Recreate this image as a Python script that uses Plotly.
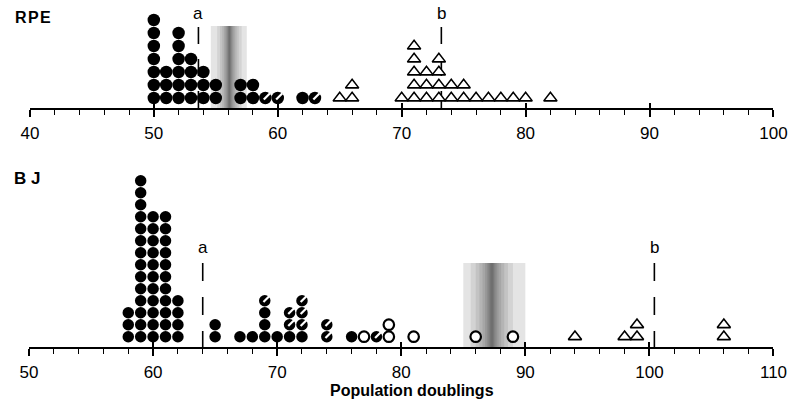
import plotly.graph_objects as go

# ---------------- data ----------------
# RPE panel (population doublings, number of clones stacked)
rpe_filled_x = [50, 51, 52, 53, 54, 55, 57, 58, 62]
rpe_filled_n = [7, 3, 6, 4, 3, 2, 2, 2, 1]
rpe_half_x = [59, 60, 63]
rpe_half_n = [1, 1, 1]
rpe_tri_x = [65, 66, 70, 71, 72, 73, 74, 75, 76, 77, 78, 79, 80, 82]
rpe_tri_n = [1, 2, 1, 5, 3, 4, 2, 2, 1, 1, 1, 1, 1, 1]
rpe_marks = {"a": 53.6, "b": 73.2}
rpe_band = [54.6, 56.1, 57.5]   # left, darkest centre, right

# BJ panel
bj_filled_x = [58, 59, 60, 61, 62, 65, 67, 68, 69, 70, 71, 72, 76]
bj_filled_n = [3, 14, 11, 11, 4, 2, 1, 1, 3, 1, 1, 1, 1]
bj_half_x = [69, 71, 72, 74, 78]
bj_half_n = [1, 2, 3, 2, 1]
bj_open_x = [77, 79, 81, 86, 89]
bj_open_n = [1, 2, 1, 1, 1]
bj_tri_x = [94, 98, 99, 106]
bj_tri_n = [1, 1, 2, 2]
bj_marks = {"a": 64.0, "b": 100.4}
bj_band = [85.0, 87.3, 90.0]

rpe_ticks = [40, 50, 60, 70, 80, 90, 100]
bj_ticks = [50, 60, 70, 80, 90, 100, 110]

W, H = 804, 401
FONT = "Liberation Sans, Arial, sans-serif"


def stack(xs, ns, base=None):
    """expand counts into stacked points; base gives starting level per x"""
    base = base or {}
    px, py = [], []
    for x, n in zip(xs, ns):
        b = base.get(x, 0)
        for k in range(1, n + 1):
            px.append(x)
            py.append(b + k)
    return px, py


def counts(xs, ns):
    return dict(zip(xs, ns))


fig = go.Figure()

# pixel geometry of panels
TOP_AXIS_PX, TOP_Y0_PX, TOP_STEP = 108, 111.0, 13.0
BOT_AXIS_PX, BOT_Y0_PX, BOT_STEP = 347, 348.7, 12.0
TOP_TOP_PX, BOT_TOP_PX = 8, 160


def ty(px):  # top panel pixel -> data
    return (TOP_Y0_PX - px) / TOP_STEP


def by(px):
    return (BOT_Y0_PX - px) / BOT_STEP


def add_band(xref, yref, band, y_lo, y_hi):
    l, c, r = band
    w = r - l
    fig.add_shape(type="rect", xref=xref, yref=yref, x0=l, x1=r,
                  y0=y_lo, y1=y_hi, fillcolor="#e4e4e4", line_width=0,
                  layer="below")
    for f in [0.34, 0.26, 0.2, 0.15, 0.11, 0.08, 0.055, 0.035, 0.02]:
        fig.add_shape(type="rect", xref=xref, yref=yref,
                      x0=max(l, c - f * w), x1=min(r, c + f * w),
                      y0=y_lo, y1=y_hi, fillcolor="rgba(0,0,0,0.075)",
                      line_width=0, layer="below")


add_band("x", "y", rpe_band, ty(TOP_AXIS_PX), ty(26))
add_band("x2", "y2", bj_band, by(BOT_AXIS_PX), by(263))


def add_mark(xa, ya, xv, label, y_top, y_bot, y_lab, dash):
    fig.add_trace(go.Scatter(x=[xv, xv], y=[y_top, y_bot], mode="lines",
                             line=dict(color="black", width=1.6, dash=dash),
                             xaxis=xa, yaxis=ya, showlegend=False,
                             hoverinfo="skip"))
    fig.add_annotation(x=xv, y=y_lab, xref=xa, yref=ya, text=label,
                       showarrow=False, yanchor="middle", xanchor="center",
                       font=dict(family=FONT, size=17, color="black"))


for lab, xv in rpe_marks.items():
    add_mark("x", "y", xv, lab, ty(27), ty(TOP_AXIS_PX), ty(14), "17px,15px")
for lab, xv in bj_marks.items():
    add_mark("x2", "y2", xv, lab, by(263), by(BOT_AXIS_PX), by(247),
             "18px,16px")


def add_points(xa, ya, x, y, kind, size, unit_x, unit_y):
    if not x:
        return
    if kind == "filled":
        fig.add_trace(go.Scatter(x=x, y=y, mode="markers", xaxis=xa, yaxis=ya,
                                 marker=dict(symbol="circle", size=size,
                                             color="black",
                                             line=dict(width=0)),
                                 showlegend=False))
    elif kind == "half":
        fig.add_trace(go.Scatter(x=x, y=y, mode="markers", xaxis=xa, yaxis=ya,
                                 marker=dict(symbol="circle", size=size,
                                             color="black",
                                             line=dict(width=0)),
                                 showlegend=False))
        ox = [v + 1.6 / unit_x for v in x]
        oy = [v + 1.6 / unit_y for v in y]
        fig.add_trace(go.Scatter(x=ox, y=oy, mode="markers", xaxis=xa,
                                 yaxis=ya,
                                 marker=dict(symbol="line-ne", size=size * 0.5,
                                             color="white",
                                             line=dict(width=2.2,
                                                       color="white")),
                                 showlegend=False))
    elif kind == "open":
        fig.add_trace(go.Scatter(x=x, y=y, mode="markers", xaxis=xa, yaxis=ya,
                                 marker=dict(symbol="circle", size=size - 1,
                                             color="white",
                                             line=dict(width=2.2,
                                                       color="black")),
                                 showlegend=False))
    elif kind == "tri":
        fig.add_trace(go.Scatter(x=x, y=y, mode="markers", xaxis=xa, yaxis=ya,
                                 marker=dict(symbol="triangle-up", size=size,
                                             color="white",
                                             line=dict(width=1.6,
                                                       color="black")),
                                 showlegend=False))


UX = 12.77  # px per doubling
# RPE
fx, fy = stack(rpe_filled_x, rpe_filled_n)
add_points("x", "y", fx, fy, "filled", 12.5, UX, TOP_STEP)
hx, hy = stack(rpe_half_x, rpe_half_n, counts(rpe_filled_x, rpe_filled_n))
add_points("x", "y", hx, hy, "half", 12.5, UX, TOP_STEP)
tx, tyy = stack(rpe_tri_x, rpe_tri_n)
add_points("x", "y", tx, tyy, "tri", 11.5, UX, TOP_STEP)

# BJ
fx, fy = stack(bj_filled_x, bj_filled_n)
add_points("x2", "y2", fx, fy, "filled", 11.5, UX, BOT_STEP)
hx, hy = stack(bj_half_x, bj_half_n, counts(bj_filled_x, bj_filled_n))
add_points("x2", "y2", hx, hy, "half", 11.5, UX, BOT_STEP)
ox_, oy_ = stack(bj_open_x, bj_open_n)
add_points("x2", "y2", ox_, oy_, "open", 11.5, UX, BOT_STEP)
tx, tyy = stack(bj_tri_x, bj_tri_n)
add_points("x2", "y2", tx, tyy, "tri", 11.5, UX, BOT_STEP)

tickfont = dict(family=FONT, size=17, color="black")
common_x = dict(showline=True, linecolor="black", linewidth=1.6,
                ticks="outside", ticklen=7, tickwidth=1.6, tickcolor="black",
                showgrid=False, zeroline=False, tickfont=tickfont,
                ticklabelstandoff=2,
                minor=dict(dtick=2, ticks="outside", ticklen=5, tickwidth=1.2,
                           tickcolor="black", showgrid=False),
                fixedrange=True)

fig.update_layout(
    width=W, height=H, margin=dict(l=0, r=0, t=0, b=0),
    paper_bgcolor="white", plot_bgcolor="white", showlegend=False,
    xaxis=dict(domain=[21.5 / W, 787 / W], range=[40, 100], anchor="y",
               tickvals=rpe_ticks, **common_x),
    yaxis=dict(domain=[1 - TOP_AXIS_PX / H, 1 - TOP_TOP_PX / H],
               range=[ty(TOP_AXIS_PX), ty(TOP_TOP_PX)], visible=False,
               fixedrange=True),
    xaxis2=dict(domain=[20.6 / W, 787 / W], range=[50, 110], anchor="y2",
                tickvals=bj_ticks, **common_x),
    yaxis2=dict(domain=[1 - BOT_AXIS_PX / H, 1 - BOT_TOP_PX / H],
                range=[by(BOT_AXIS_PX), by(BOT_TOP_PX)], visible=False,
                fixedrange=True),
    # overlay axes giving the major ticks a short upward part
    xaxis3=dict(overlaying="x", anchor="y", range=[40, 100],
                tickvals=rpe_ticks, ticks="inside", ticklen=5, tickwidth=1.6,
                tickcolor="black", showticklabels=False, showgrid=False,
                zeroline=False, showline=False, fixedrange=True),
    xaxis4=dict(overlaying="x2", anchor="y2", range=[50, 110],
                tickvals=bj_ticks, ticks="inside", ticklen=5, tickwidth=1.6,
                tickcolor="black", showticklabels=False, showgrid=False,
                zeroline=False, showline=False, fixedrange=True),
)

# invisible traces to activate overlay axes
fig.add_trace(go.Scatter(x=[40], y=[1], xaxis="x3", yaxis="y", mode="markers",
                         marker=dict(opacity=0), hoverinfo="skip",
                         showlegend=False))
fig.add_trace(go.Scatter(x=[50], y=[1], xaxis="x4", yaxis="y2",
                         mode="markers", marker=dict(opacity=0),
                         hoverinfo="skip", showlegend=False))

fig.add_annotation(x=4 / W, y=1 - 17 / H, xref="paper", yref="paper",
                   text="<b>R\u200aP\u200aE</b>", showarrow=False,
                   xanchor="left", yanchor="middle",
                   font=dict(family=FONT, size=16, color="black"))
fig.add_annotation(x=3 / W, y=1 - 178 / H, xref="paper", yref="paper",
                   text="<b>B J</b>", showarrow=False, xanchor="left",
                   yanchor="middle",
                   font=dict(family=FONT, size=17, color="black"))
fig.add_annotation(x=415 / W, y=0, xref="paper", yref="paper",
                   yanchor="bottom", xanchor="center",
                   text="<b>Population doublings</b>", showarrow=False,
                   font=dict(family=FONT, size=16, color="black"))

fig.write_html("out.html", config={"displayModeBar": False},
               post_script="document.body.style.margin='0px';"
                           "document.body.style.overflow='hidden';")
